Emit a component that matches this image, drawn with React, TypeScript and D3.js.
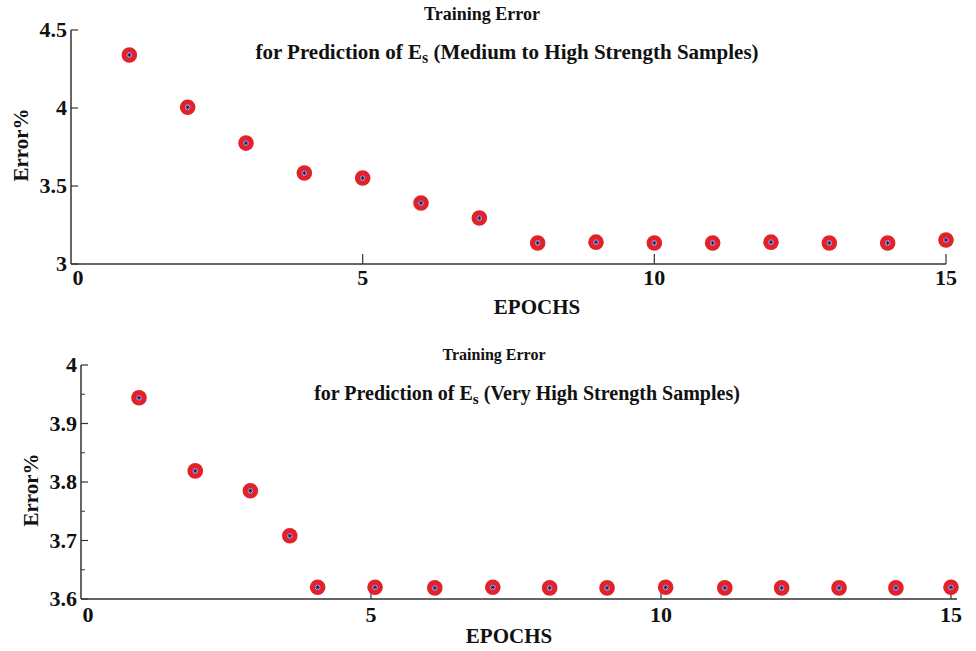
import React from "react";
import * as d3 from "d3";

const epochsTop = [1, 2, 3, 4, 5, 6, 7, 8, 9, 10, 11, 12, 13, 14, 15];
const errorTop = [4.34, 4.005, 3.775, 3.583, 3.551, 3.391, 3.295, 3.135, 3.14, 3.135, 3.135, 3.14, 3.135, 3.135, 3.154];
const yTicksTop = [3, 3.5, 4, 4.5];
const yTickLabelsTop = ["3", "3.5", "4", "4.5"];

const epochsBottom = [1, 1.97, 2.92, 3.6, 4.08, 5.07, 6.1, 7.1, 8.08, 9.07, 10.08, 11.1, 12.08, 13.07, 14.05, 15];
const errorBottom = [3.944, 3.819, 3.785, 3.708, 3.62, 3.62, 3.619, 3.62, 3.619, 3.619, 3.62, 3.619, 3.619, 3.619, 3.619, 3.62];
const yTicksBottom = [3.6, 3.7, 3.8, 3.9, 4];
const yTickLabelsBottom = ["3.6", "3.7", "3.8", "3.9", "4"];
const yMinorBottom = [3.65, 3.75, 3.85, 3.95];

const xTicks = [0, 5, 10, 15];
const xTickLabels = ["0", "5", "10", "15"];

const FONT = "'Liberation Serif', 'Times New Roman', serif";

function Marker({ cx, cy }: { cx: number; cy: number }) {
  const s = 2.2;
  return (
    <g>
      <circle cx={cx} cy={cy} r={7.8} fill="#e1222b" />
      <circle cx={cx} cy={cy} r={2.6} fill="#c9c3e6" />
      <path
        d={`M${cx - s},${cy}L${cx + s},${cy}M${cx},${cy - s}L${cx},${cy + s}M${cx - s * 0.7},${cy - s * 0.7}L${cx + s * 0.7},${cy + s * 0.7}M${cx - s * 0.7},${cy + s * 0.7}L${cx + s * 0.7},${cy - s * 0.7}`}
        stroke="#1a1a7a"
        strokeWidth={1}
      />
    </g>
  );
}

type PanelProps = {
  xs: number[];
  ys: number[];
  x0: number;
  x1: number;
  yTop: number;
  yBot: number;
  yDomain: [number, number];
  yTicks: number[];
  yTickLabels: string[];
  yMinor: number[];
  axisEnd: number;
  title1Y: number;
  title1X: number;
  title1Size: number;
  title2Y: number;
  title2X: number;
  title2Size: number;
  subtitle: string;
  xLabelY: number;
  xLabelX: number;
  xTickLabelY: number;
  yLabelX: number;
  yLabelY: number;
};

function Panel(p: PanelProps) {
  const x = d3.scaleLinear().domain([0, 15]).range([p.x0, p.x1]);
  const y = d3.scaleLinear().domain(p.yDomain).range([p.yBot, p.yTop]);
  const axisColor = "#333";
  return (
    <g fontFamily={FONT} fontWeight="bold" fill="#111">
      <text x={p.title1X} y={p.title1Y} fontSize={p.title1Size} textAnchor="middle">Training Error</text>
      <text x={p.title2X} y={p.title2Y} fontSize={p.title2Size} textAnchor="middle">
        for Prediction of E<tspan fontSize={p.title2Size * 0.76} dy={4}>s</tspan>
        <tspan dy={-4}>{"  (" + p.subtitle + ")"}</tspan>
      </text>
      <line x1={p.x0} y1={p.yTop} x2={p.x0} y2={p.yBot} stroke={axisColor} strokeWidth={1.5} />
      <line x1={p.x0} y1={p.yBot} x2={p.axisEnd} y2={p.yBot} stroke={axisColor} strokeWidth={1.5} />
      {p.yTicks.map((t, i) => (
        <g key={"yt" + i}>
          <line x1={p.x0} x2={p.x0 + 7} y1={y(t)} y2={y(t)} stroke={axisColor} strokeWidth={1.2} />
          <text x={p.x0 - 4} y={y(t) + 7} fontSize={22} textAnchor="end">{p.yTickLabels[i]}</text>
        </g>
      ))}
      {p.yMinor.map((t, i) => (
        <line key={"ym" + i} x1={p.x0} x2={p.x0 + 4} y1={y(t)} y2={y(t)} stroke={axisColor} strokeWidth={1} />
      ))}
      {xTicks.map((t, i) => (
        <g key={"xt" + i}>
          {t > 0 && <line x1={x(t)} x2={x(t)} y1={p.yBot} y2={p.yBot - 10} stroke={axisColor} strokeWidth={1.2} />}
          <text x={x(t) + (t === 0 ? 7 : 0)} y={p.xTickLabelY} fontSize={22} textAnchor="middle">{xTickLabels[i]}</text>
        </g>
      ))}
      <text x={p.xLabelX} y={p.xLabelY} fontSize={21} textAnchor="middle">EPOCHS</text>
      <text
        transform={`translate(${p.yLabelX},${p.yLabelY}) rotate(-90)`}
        fontSize={21}
        textAnchor="middle"
      >
        Error%
      </text>
      {p.xs.map((v, i) => (
        <Marker key={"m" + i} cx={x(v)} cy={y(p.ys[i])} />
      ))}
    </g>
  );
}

export default function App() {
  return (
    <svg
      width={976}
      height={651}
      style={{ position: "absolute", left: 0, top: 0, background: "#fff" }}
    >
      <rect width={976} height={651} fill="#fff" />
      <Panel
        xs={epochsTop}
        ys={errorTop}
        x0={71}
        x1={946}
        yTop={30}
        yBot={264}
        yDomain={[3, 4.5]}
        yTicks={yTicksTop}
        yTickLabels={yTickLabelsTop}
        yMinor={[]}
        axisEnd={946}
        title1X={482}
        title1Y={20}
        title1Size={18}
        title2X={507}
        title2Y={59}
        title2Size={21}
        subtitle="Medium to High Strength Samples"
        xLabelX={537}
        xLabelY={314}
        xTickLabelY={285}
        yLabelX={28}
        yLabelY={145}
      />
      <Panel
        xs={epochsBottom}
        ys={errorBottom}
        x0={81}
        x1={951}
        yTop={365}
        yBot={599}
        yDomain={[3.6, 4]}
        yTicks={yTicksBottom}
        yTickLabels={yTickLabelsBottom}
        yMinor={yMinorBottom}
        axisEnd={957}
        title1X={494}
        title1Y={360}
        title1Size={16}
        title2X={527}
        title2Y={400}
        title2Size={20}
        subtitle="Very High Strength Samples"
        xLabelX={509}
        xLabelY={643}
        xTickLabelY={622}
        yLabelX={38}
        yLabelY={490}
      />
    </svg>
  );
}
